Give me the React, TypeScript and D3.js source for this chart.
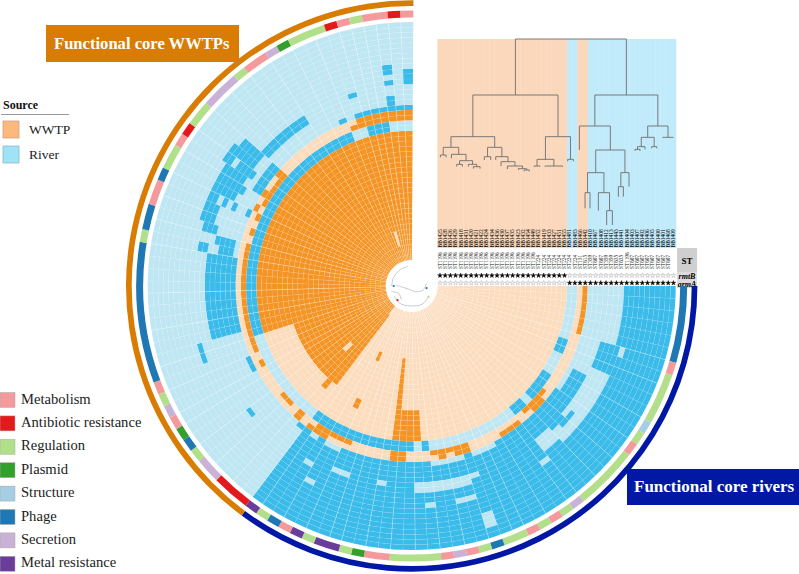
import React from "react";
import * as d3 from "d3";

const W = 799, H = 574;
const CX = 411.7, CY = 286;
const GENES = 100;
const SERIF = "'Liberation Serif', serif";

// sample sources along the radius (inner to outer) and across the tree
const sampleSource: string[] = [
  ...Array(25).fill("W"), ...Array(2).fill("R"), ...Array(2).fill("W"), ...Array(17).fill("R"),
];
const bbLabels = ["BB1425","BB1428","BB1426","BB1429","BB1418","BB1431","BB1420","BB1421","BB1422","BB1424","BB1434","BB1436","BB1430","BB1437","BB1435","BB1423","BB1432","BB1454","BB1449","BB1452","BB1419","BB1433","BB1427","BB1451","BB1455","BB1481","BB1483","BB1466","BB1442","BB1410","BB1467","BB1408","BB1412","BB1413","BB1443","BB1441","BB1404","BB1403","BB1407","BB1402","BB1406","BB1405","BB1400","BB1401","BB1468","BB1409"];
const stLabels = [...Array(19).fill("ST1196"), ...Array(6).fill("ST224"), "ST224","ST224","ST131","ST615","ST359","ST607","ST607","ST359","ST359","ST635","ST635","ST1196","ST607","ST607","ST607","ST607","ST607","ST607","ST607","ST607"];
const rmtBFilled = sampleSource.map((_, i) => i < 25);
const armAFilled = sampleSource.map((_, i) => i >= 25);

// category of each gene run, east, clockwise [name, number of genes]
const categoryRuns: [string, number][] = [
  ["Phage",6],["Metabolism",1],["Regulation",4],["Structure",1],["Regulation",1],["Metabolism",1],["Regulation",5],["Secretion",1],["Regulation",1],["Metabolism",1],["Regulation",1],["Metabolism",1],["Regulation",2],["Phage",1],["Regulation",1],["Metabolism",1],["Secretion",1],["Metabolism",1],["Regulation",4],["Metabolism",2],["Plasmid",1],["Regulation",1],["Metal resistance",2],["Regulation",1],["Metal resistance",1],["Metabolism",1],["Phage",1],["Regulation",1],["Metal resistance",1],["Antibiotic resistance",3],["Secretion",2],["Regulation",1],["Phage",1],["Plasmid",1],["Metabolism",1],["Secretion",1],["Regulation",1],["Metabolism",1],["Phage",11],["Regulation",1],["Phage",2],["Metabolism",2],["Phage",1],["Regulation",2],["Metabolism",1],["Antibiotic resistance",1],["Regulation",2],["Secretion",3],["Regulation",1],["Metabolism",2],["Secretion",1],["Plasmid",1],["Regulation",3],["Antibiotic resistance",1],["Metabolism",1],["Regulation",1],["Metabolism",2],["Antibiotic resistance",1],["Metabolism",1],
];
const categoryNames = ["Metabolism","Antibiotic resistance","Regulation","Plasmid","Structure","Phage","Secretion","Metal resistance"];
const categoryColors = ["#f59a9c","#e31a1c","#b2df8a","#33a02c","#a6cee3","#1f78b4","#cab2d6","#6a3d9a"];

// presence blocks: [first sample, last sample, first gene, last gene]
const wwtpPresent: number[][] = [
  [0,24,60,99],[0,18,47,59],[19,20,48,48],[9,10,42,42],[19,20,42,42],[9,18,35,35],[19,24,32,35],
];
const wwtpAbsent: number[][] = [[11,12,50,50],[3,5,93,93],[0,1,47,47]];
const riverInnerPresent: number[][] = [
  [25,26,7,8],[25,26,12,15],[25,26,17,18],[25,26,31,31],[25,26,33,46],[25,26,60,91],[25,26,94,96],
];
const wwtpOuterPresent: number[][] = [
  [28,28,0,5],[27,28,15,16],[27,27,14,14],[27,27,17,17],[28,28,19,21],[27,28,26,27],[27,27,28,28],[27,28,29,29],[27,27,30,30],[27,28,34,35],
  [27,27,41,43],[27,28,44,45],[28,28,46,46],[27,28,48,48],[27,27,50,51],[27,27,56,56],[27,27,58,71],[27,27,73,73],[27,27,75,75],[28,28,76,76],[27,28,78,78],[27,27,77,77],[27,27,79,80],[27,28,81,81],[27,27,92,92],[27,28,93,99],
];
const riverOuterPresent: number[][] = [
  [36,45,0,5],[29,45,6,46],[29,29,47,47],
  [37,37,59,60],[29,29,56,57],[34,34,52,52],[29,34,61,69],[35,36,70,70],[30,32,70,70],[30,33,71,71],[34,36,72,72],[35,37,73,74],[36,37,75,75],[34,34,75,75],[32,32,75,75],[29,29,75,75],
  [33,37,76,76],[32,37,77,77],[33,37,78,78],[32,38,79,79],[33,38,80,80],[33,37,81,81],[32,33,82,87],[29,30,78,81],[29,29,91,91],[33,33,93,93],[29,29,93,99],[36,37,97,97],[34,34,97,97],[34,36,99,99],[30,31,97,97],
];
const riverOuterAbsent: number[][] = [
  [29,32,6,8],[37,37,6,6],[29,36,9,9],[29,29,10,12],[33,36,10,13],[33,33,14,14],[35,36,14,14],[35,36,15,15],[34,36,16,16],[33,35,17,18],[37,37,19,19],
  [34,34,44,44],[37,37,43,43],[33,33,40,41],[33,33,36,36],[29,29,45,45],[29,29,42,43],[29,29,27,30],[29,29,23,25],[33,34,27,32],[33,33,26,26],[37,37,27,28],[37,37,31,31],[41,43,26,26],
  [36,36,79,79],
];
const radialBreaks = [6,8,11,13,15,17,19,20,22,24,25,27,29,31,33,35,37,39,40,42,44,46,47,49,51,53,55,56,58,60,63,66,70,72,74,76,78,80,82,84,86,88,90,92,94,95,96,97,98,99];

// dendrogram, in tree units: leaf = [x, end], node = [height, ...children]
type T = { h?: number; x?: number; end?: number; kids?: T[] };
const L = (x: number, end: number): T => ({ x, end });
const N = (h: number, ...kids: T[]): T => ({ h, kids });
const treeData: T = N(27,
  N(195,
    N(320,
      N(352, N(375, L(31,382), L(48,382)),
        N(373, L(64,385), N(392, N(403, L(80,410), L(97,410)), N(403, L(115,410), N(410, L(130,416), L(150,416)))))),
      N(352, N(380, L(163,390), L(182,390)),
        N(380, L(197,390), N(395, L(213,408), N(408, L(232,417), N(416, L(265,420), N(420, L(282,424), L(298,424)))))))),
    N(320,
      N(388, N(408, L(312,410), L(330,410)), N(408, L(345,410), L(398,410))),
      N(388, L(413,394), L(430,394)))),
  N(195,
    N(288, L(448,360),
      N(360,
        N(428, N(488, L(465,535), L(480,535)), N(488, L(505,542), N(542, L(530,585), L(547,585)))),
        N(428, N(470, L(565,500), L(580,500)), L(597,470)))),
    N(288,
      N(322, N(350, N(358, L(615,363), L(630,363)), L(645,358)), N(350, L(665,355), L(680,355))),
      N(322, L(698,323), L(730,323)))));

const legendColors = { W: "#fdb97d", R: "#9fe3f7" };
const DARK: Record<string, string> = { W: "#f49424", R: "#3abbea" };
const LIGHT: Record<string, string> = { W: "#fbdcbd", R: "#bfe6f3" };

// miniature tree inside the centre hole, [clockwise degrees from east, radius]
const miniTracks: [number, number][][] = [
  [[180,20],[205,20],[235,20],[258,20]],
  [[182,16],[172,9],[120,4],[55,7],[20,12],[-10,15]],
  [[150,20],[125,21],[95,20],[60,21],[35,20]],
  [[165,21],[150,15],[128,17]],
];
const miniDots: [number, number, string][] = [[180,18,"#1f78b4"],[8,15,"#1f78b4"],[135,20,"#e31a1c"],[33,20,"#b2df8a"]];

function App() {
  const ring = d3.scaleBand<number>().domain(d3.range(46)).range([26, 264]);
  const ang = d3.scaleLinear().domain([0, GENES]).range([Math.PI / 2, Math.PI * 2 + 0.006]);
  const arc = d3.arc();
  const grid: boolean[][] = d3.range(46).map(() => d3.range(GENES).map(() => false));
  const paint = (blocks: number[][], v: boolean) =>
    blocks.forEach(([a, b, c, d]) => {
      for (let i = a; i <= b; i++) for (let g = c; g <= d; g++) grid[i][g] = v;
    });
  [wwtpPresent, riverInnerPresent, wwtpOuterPresent, riverOuterPresent].forEach((b) => paint(b, true));
  [wwtpAbsent, riverOuterAbsent].forEach((b) => paint(b, false));

  const catColor = d3.scaleOrdinal<string, string>().domain(categoryNames).range(categoryColors);
  let acc = 0;
  const segs = categoryRuns.map(([name, n]) => {
    const s = { name, a: acc, b: acc + n };
    acc += n;
    return s;
  });

  // tree
  const tx = d3.scaleLinear().domain([22, 738]).range([437.4, 676]);
  const ty = d3.scaleLinear().domain([27, 600]).range([39, 230]);
  const root = d3.hierarchy<T>(treeData, (d) => d.kids);
  const px = new Map<any, number>();
  root.eachAfter((n) => {
    px.set(n, n.children ? (px.get(n.children[0])! + px.get(n.children[n.children.length - 1])!) / 2 : n.data.x!);
  });
  const treeSegs: string[] = [];
  root.each((n) => {
    if (n.children) {
      const y = ty(n.data.h!);
      treeSegs.push(`M${tx(px.get(n.children[0])!)},${y}H${tx(px.get(n.children[n.children.length - 1])!)}`);
      n.children.forEach((c) => {
        const endY = c.children ? ty(c.data.h!) : ty(c.data.end!);
        treeSegs.push(`M${tx(px.get(c)!)},${y}V${endY}`);
      });
    }
  });

  const col = d3.scaleBand<number>().domain(d3.range(46)).range([437.4, 676]);
  const star = d3.symbol().type(d3.symbolStar).size(7);
  const polar = ([t, r]: [number, number]): [number, number] => [
    CX + r * Math.cos((t * Math.PI) / 180),
    CY + r * Math.sin((t * Math.PI) / 180),
  ];
  const miniLine = d3.line().curve(d3.curveCatmullRom);

  return (
    <svg width={W} height={H} style={{ position: "absolute", left: 0, top: 0, display: "block", fontFamily: SERIF, background: "#fff" }}>
      {/* tree background */}
      {sampleSource.map((s, i) => (
        <rect key={i} x={col(i)} y={39} width={col.bandwidth() + 0.3} height={209} fill={s === "W" ? "#fbd8bc" : "#c1ebfb"} />
      ))}
      <path d={treeSegs.join("")} fill="none" stroke="#6e6e6e" strokeWidth={0.9} />
      {bbLabels.map((t, i) => (
        <text key={i} transform={`translate(${col(i)! + col.bandwidth() / 2 + 1.8},247.5) rotate(-90)`} fontSize={5.5} fill="#000">{t}</text>
      ))}
      {stLabels.map((t, i) => (
        <text key={i} transform={`translate(${col(i)! + col.bandwidth() / 2 + 1.8},269) rotate(-90)`} fontSize={5.3} fill="#111">{t}</text>
      ))}
      {rmtBFilled.map((f, i) => (
        <path key={i} d={star()!} transform={`translate(${col(i)! + col.bandwidth() / 2},275.5)`} fill={f ? "#000" : "#fff"} stroke={f ? "#000" : "#999"} strokeWidth={0.4} />
      ))}
      {armAFilled.map((f, i) => (
        <path key={i} d={star()!} transform={`translate(${col(i)! + col.bandwidth() / 2},283)`} fill={f ? "#000" : "#fff"} stroke={f ? "#000" : "#999"} strokeWidth={0.4} />
      ))}
      <rect x={677} y={248} width={20} height={24} fill="#cfcfcf" />
      <rect x={677} y={272} width={20} height={16} fill="#dcdcdc" />
      <text x={687} y={264} textAnchor="middle" fontSize={9} fontWeight="bold">ST</text>
      <text x={687} y={278.5} textAnchor="middle" fontSize={8} fontWeight="bold" fontStyle="italic">rmtB</text>
      <text x={687} y={286.5} textAnchor="middle" fontSize={8} fontWeight="bold" fontStyle="italic">armA</text>

      {/* heat map */}
      <g transform={`translate(${CX},${CY})`}>
        {grid.map((row, i) =>
          row.map((on, g) => (
            <path
              key={`${i}-${g}`}
              d={arc({ innerRadius: ring(i)!, outerRadius: ring(i)! + ring.bandwidth(), startAngle: ang(g), endAngle: ang(g + 1) })!}
              fill={on ? DARK[sampleSource[i]] : LIGHT[sampleSource[i]]}
              stroke="#fff"
              strokeOpacity={0.14}
              strokeWidth={0.4}
            />
          )),
        )}
        {radialBreaks.map((g) => {
          const a = ang(g) - Math.PI / 2;
          return (
            <line key={g} x1={26 * Math.cos(a)} y1={26 * Math.sin(a)} x2={264 * Math.cos(a)} y2={264 * Math.sin(a)} stroke="#fff" strokeOpacity={0.4} strokeWidth={0.6} />
          );
        })}
        {segs.map((s, i) => (
          <path key={i} d={arc({ innerRadius: 268.5, outerRadius: 275.5, startAngle: ang(s.a), endAngle: ang(s.b) })!} fill={catColor(s.name)} />
        ))}
        <path d={arc({ innerRadius: 280, outerRadius: 285.7, startAngle: Math.PI / 2, endAngle: ang(46.8) })!} fill="#0018a4" />
        <path d={arc({ innerRadius: 280, outerRadius: 285.7, startAngle: ang(46.8), endAngle: ang(100) })!} fill="#d87c03" />
      </g>

      {/* centre */}
      <circle cx={CX} cy={CY} r={25.5} fill="#fff" />
      {miniTracks.map((t, i) => (
        <path key={i} d={miniLine(t.map(polar))!} fill="none" stroke="#c6ccd1" strokeWidth={1} />
      ))}
      {miniDots.map(([t, r, c], i) => {
        const [x, y] = polar([t, r]);
        return <circle key={i} cx={x} cy={y} r={1.1} fill={c} />;
      })}

      {/* labels */}
      <rect x={46} y={25} width={193} height={37} fill="#d87c03" />
      <text x={54} y={49} fontSize={16.6} fontWeight="bold" fill="#fff">Functional core WWTPs</text>
      <rect x={627} y={469} width={172} height={36} fill="#0018a4" />
      <text x={634} y={492} fontSize={17} fontWeight="bold" fill="#fff">Functional core rivers</text>

      {/* source legend */}
      <text x={3} y={108.5} fontSize={12} fontWeight="bold" fill="#111">Source</text>
      <line x1={1} x2={69} y1={114.5} y2={114.5} stroke="#999" />
      <rect x={3} y={121} width={16} height={17} fill={legendColors.W} stroke="#c89a72" strokeWidth={0.7} />
      <text x={29} y={134} fontSize={13.5} fill="#222">WWTP</text>
      <rect x={3} y={146} width={16} height={17} fill={legendColors.R} stroke="#7fb3c4" strokeWidth={0.7} />
      <text x={29} y={159} fontSize={13.5} fill="#222">River</text>

      {/* category legend */}
      {categoryNames.map((name, i) => (
        <g key={name}>
          <rect x={0} y={392.5 + i * 23.4} width={15} height={15} fill={categoryColors[i]} stroke="#aaa" strokeWidth={0.5} />
          <text x={21} y={403.5 + i * 23.4} fontSize={14.6} fill="#222">{name}</text>
        </g>
      ))}
    </svg>
  );
}

export default App;
